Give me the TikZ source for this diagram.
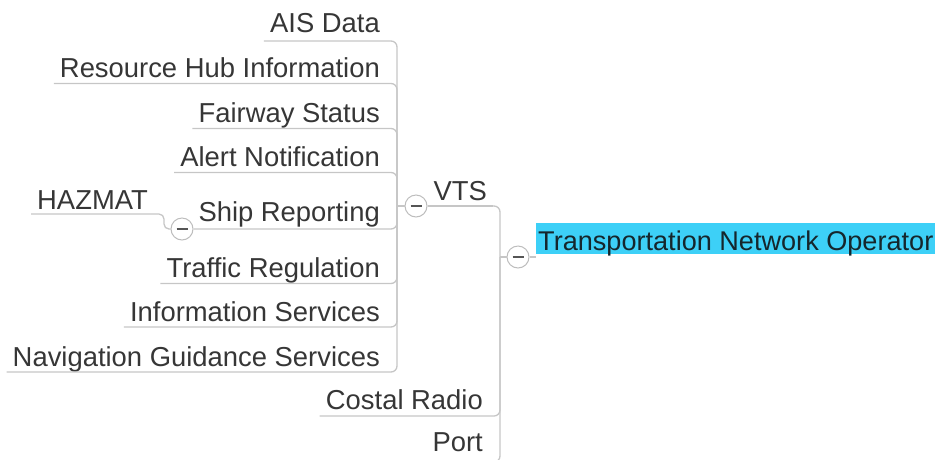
\documentclass[tikz,border=0pt]{standalone}
\usepackage{fontspec}
\setmainfont{Liberation Sans}
\definecolor{branchgray}{HTML}{C6C6C6}
\definecolor{knobgray}{HTML}{BDBDBD}
\definecolor{minusgray}{HTML}{555555}
\definecolor{labelgray}{HTML}{363636}
\definecolor{rootfill}{HTML}{3DD0F7}
\definecolor{roottext}{HTML}{15262C}
\begin{document}
\begin{tikzpicture}[x=1pt,y=-1pt,
  branch/.style={draw=branchgray, line width=1.3pt, rounded corners=6pt},
  topic/.style={font=\fontsize{27.4}{30}\selectfont, text=labelgray,
    inner xsep=6pt, inner ysep=0pt, text height=20pt, text depth=6pt},
  knob/.style={circle, draw=knobgray, line width=1pt, fill=white,
    minimum size=22pt, inner sep=0pt,
    path picture={\draw[minusgray, line width=2.4pt]
      ([xshift=-5.5pt]path picture bounding box.center) --
      ([xshift=5.5pt]path picture bounding box.center);}},
  rootnode/.style={font=\fontsize{27.1}{30}\selectfont, text=roottext, fill=rootfill,
    inner xsep=2pt, inner ysep=0pt, text height=27pt, text depth=4pt}
]
\useasboundingbox (0,0) rectangle (941,459);

% root topic and its collapse knob
\node[rootnode, anchor=base west] (root) at (536,250) {Transportation Network Operator};
\node[knob] (netknob) at (518,257) {};
\coordinate (netfork) at (500,257);

% first-level branches
\node[knob] (vtsknob) at (416,206) {};
\node[topic, anchor=south west, text depth=5pt] (vts) at (vtsknob.east) {VTS};
\coordinate (vtsfork) at (397,206);
\node[topic, anchor=south east] (costal) at (489,416) {Costal Radio};
\node[topic, anchor=south east, text depth=10pt] (port) at (489,462) {Port};

% VTS children
\node[topic, anchor=south east, text depth=8pt] (ais) at (386,41) {AIS Data};
\node[topic, anchor=south east] (hub) at (386,83.5) {Resource Hub Information};
\node[topic, anchor=south east] (fairway) at (386,128.5) {Fairway Status};
\node[topic, anchor=south east] (alert) at (386,172.5) {Alert Notification};
\node[knob] (shipknob) at (182,229) {};
\node[topic, anchor=south east, text depth=7pt] (ship) at (386,229) {Ship Reporting};
\node[topic, anchor=south east] (traffic) at (386,283.5) {Traffic Regulation};
\node[topic, anchor=south east, text depth=5pt] (info) at (386,327) {Information Services};
\node[topic, anchor=south east, text depth=5pt] (nav) at (386,372) {Navigation Guidance Services};

% Ship Reporting child
\node[topic, anchor=south west, text depth=4pt] (hazmat) at (31,214) {HAZMAT};
\coordinate (shipfork) at (164,229);

% connectors
\draw[branch] (netknob.east) -- (netknob.east -| root.west);
\draw[branch] (netfork) -- (netknob.west);
\draw[branch] (netfork) |- (vtsknob.east);
\draw[branch] (vtsknob.east) -- (vts.south east);
\draw[branch] (netfork) |- (costal.south west);
\draw[branch] (netfork) |- (port.south west);

\draw[branch] (vtsfork) -- (vtsknob.west);
\foreach \leaf in {ais,hub,fairway,alert,traffic,info,nav}
  \draw[branch] (vtsfork) |- (\leaf.south west);
\draw[branch] (vtsfork) |- (shipknob.east);

\draw[branch, rounded corners=5pt] (shipknob.west) -- (shipfork) |- (hazmat.south west);
\end{tikzpicture}
\end{document}
